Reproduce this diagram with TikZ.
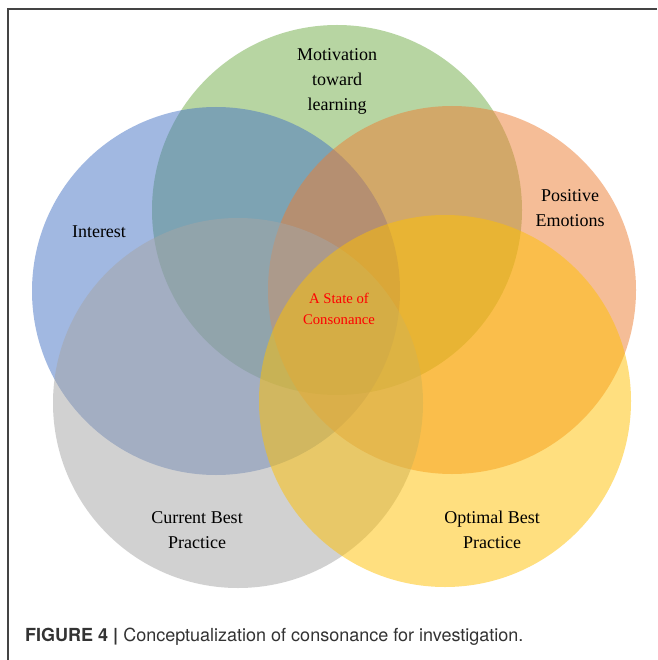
\documentclass[tikz,border=0pt]{standalone}
\usepackage{fontspec}
\setmainfont{Liberation Serif}
\newfontfamily\capfont{TeX Gyre Heros}
\definecolor{cgreen}{HTML}{70AD47}
\definecolor{cblue}{HTML}{4472C4}
\definecolor{corange}{HTML}{ED7D31}
\definecolor{cgrey}{HTML}{A5A5A5}
\definecolor{cyellow}{HTML}{FFC000}
\definecolor{framegrey}{HTML}{444444}
\definecolor{captext}{HTML}{333333}
\begin{document}
\begin{tikzpicture}[x=1pt,y=-1pt,
  venn/.style={fill opacity=0.5, draw=none},
  lbl/.style={font=\fontsize{18}{25}\selectfont, align=center, text=black},
  core/.style={font=\fontsize{14.7}{21}\selectfont, align=center, text=red}]
\useasboundingbox (0,0) rectangle (657,660);
\fill[white] (0,0) rectangle (657,660);
\draw[framegrey, line width=1.3pt] (8,660) coordinate (fb) -- (8,9) coordinate (fc) -- (657,9) coordinate (fr);
\fill[cgreen, venn] (337,210) circle (185);
\fill[cblue, venn] (216,291) circle (184);
\fill[corange, venn] (452,290) circle (184);
\fill[cgrey, venn] (238,403) circle (185);
\fill[cyellow, venn] (445,401) circle (186);
\node[lbl] (mot) at (337,81) {Motivation\\toward\\learning};
\node[lbl] (int) at (99,232) {Interest};
\node[lbl] (pos) at (570,208) {Positive\\Emotions};
\node[core] (cons) at (339,309) {A State of\\Consonance};
\node[lbl] (cur) at (197,530) {Current Best\\Practice};
\node[lbl] (opt) at (492,530) {Optimal Best\\Practice};
\node[anchor=base west, inner sep=0pt, text=captext, font=\capfont\fontsize{18}{20}\selectfont] (cap) at (25,641) {\textbf{FIGURE 4 |} Conceptualization of consonance for investigation.};
\end{tikzpicture}
\end{document}
